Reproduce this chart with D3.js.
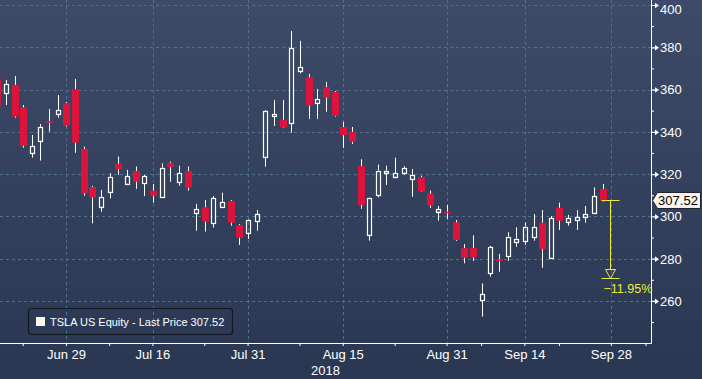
<!DOCTYPE html>
<html><head><meta charset="utf-8">
<script src="https://cdn.jsdelivr.net/npm/d3@7"></script>
<style>html,body{margin:0;padding:0;background:#2c3a56;overflow:hidden}</style>
</head><body><svg id="c" width="702" height="379"></svg>
<script>
const dates = ["2018-06-19","2018-06-20","2018-06-21","2018-06-22","2018-06-25","2018-06-26","2018-06-27","2018-06-28","2018-06-29",
"2018-07-02","2018-07-03","2018-07-05","2018-07-06","2018-07-09","2018-07-10","2018-07-11","2018-07-12","2018-07-13",
"2018-07-16","2018-07-17","2018-07-18","2018-07-19","2018-07-20","2018-07-23","2018-07-24","2018-07-25","2018-07-26","2018-07-27",
"2018-07-30","2018-07-31","2018-08-01","2018-08-02","2018-08-03","2018-08-06","2018-08-07","2018-08-08","2018-08-09","2018-08-10",
"2018-08-13","2018-08-14","2018-08-15","2018-08-16","2018-08-17","2018-08-20","2018-08-21","2018-08-22","2018-08-23","2018-08-24",
"2018-08-27","2018-08-28","2018-08-29","2018-08-30","2018-08-31","2018-09-04","2018-09-05","2018-09-06","2018-09-07",
"2018-09-10","2018-09-11","2018-09-12","2018-09-13","2018-09-14","2018-09-17","2018-09-18","2018-09-19","2018-09-20","2018-09-21",
"2018-09-24","2018-09-25","2018-09-26","2018-09-27"];
const opens = [365.2,358.2,362.2,351.6,330.1,335.8,345.1,348.6,353.6,
360.3,331.9,313.9,304.6,311.7,324.9,315.5,321.5,315.7,
312.2,309.0,325.3,316.4,321.5,301.7,304.4,296.7,304.6,307.3,
295.9,292.3,297.8,328.3,347.6,345.7,344.0,368.9,365.8,353.8,
361.2,358.8,342.3,340.0,323.8,291.4,310.0,320.7,318.8,320.7,
317.8,318.6,310.8,302.3,302.2,297.2,285.0,285.0,260.3,
273.1,279.6,281.1,287.9,288.4,290.1,297.0,280.5,304.1,297.5,
298.3,299.9,301.7,313.0];
const highs = [368.0,364.5,366.4,352.7,338.5,343.7,350.8,357.4,354.1,
365.0,333.0,314.4,312.5,320.4,328.3,322.0,323.6,319.6,
315.3,325.1,325.9,324.0,323.6,305.9,307.8,309.6,311.2,307.8,
296.4,298.6,303.0,350.3,355.1,355.1,387.7,383.0,367.4,360.3,
363.6,359.3,344.7,342.3,327.0,308.8,324.5,324.0,327.8,323.8,
322.4,319.3,312.2,304.9,305.4,298.3,286.9,291.0,268.3,
286.1,282.2,292.5,294.8,297.1,301.1,303.0,300.2,306.5,300.7,
302.9,304.9,313.7,315.3];
const lows = [346.0,352.7,346.7,332.5,327.8,326.4,340.1,346.7,342.5,
330.1,309.8,296.7,302.2,308.5,319.6,315.2,313.0,309.6,
306.5,308.7,316.4,314.5,312.2,293.2,292.8,294.7,304.1,295.6,
286.5,289.3,293.2,323.5,342.8,341.8,339.6,367.7,346.1,346.1,
349.5,347.2,332.4,334.2,303.6,288.5,309.0,314.9,318.0,319.6,
309.3,311.5,304.0,298.0,298.6,288.4,277.8,278.9,252.6,
271.5,273.8,279.0,285.6,286.5,288.5,275.7,280.1,293.6,295.6,
293.6,297.0,301.3,307.0];
const closes = [352.6,362.6,347.2,333.4,333.3,342.1,344.3,350.3,342.9,
334.9,310.9,309.0,309.3,318.6,322.4,319.1,316.4,319.1,
309.8,323.0,323.4,320.5,313.6,303.5,297.5,308.6,306.8,297.0,
289.9,298.3,301.1,349.9,348.2,342.0,379.5,370.5,352.4,355.5,
356.2,347.5,338.5,335.2,305.4,308.6,321.7,321.7,320.5,322.9,
319.6,311.7,305.1,303.4,301.7,288.8,280.4,280.6,263.1,
285.4,279.4,290.4,289.5,295.2,295.0,284.6,299.1,297.9,299.1,
299.7,301.2,309.6,307.52];
const futureDates = ["2018-09-28","2018-10-01","2018-10-02","2018-10-03","2018-10-04"];
const labelDates = ["2018-06-29","2018-07-16","2018-07-31","2018-08-15","2018-08-31","2018-09-14","2018-09-28"];
const labelText = ["Jun 29","Jul 16","Jul 31","Aug 15","Aug 31","Sep 14","Sep 28"];
const minorDates = ["2018-06-22","2018-07-09","2018-07-24","2018-08-08","2018-08-23","2018-09-07","2018-09-20","2018-10-04"];
const yTicks = [260,280,300,320,340,360,380,400];
const yMinor = [250,270,290,310,330,350,370,390];
const yearLabel = "2018";
const seriesName = "TSLA US Equity - Last Price";
const lastPrice = 307.52;
const annotPct = -11.95;
const annotDate = "2018-09-28";

const W = 702, H = 379, PW = 651, PH = 343;
const svg = d3.select("#c");
const defs = svg.append("defs");
const grad = defs.append("linearGradient").attr("id","bg").attr("x1",0).attr("x2",0).attr("y1",0).attr("y2",1);
grad.append("stop").attr("offset","0%").attr("stop-color","#3d4b68");
grad.append("stop").attr("offset","100%").attr("stop-color","#2a3753");
defs.append("clipPath").attr("id","clip").append("rect").attr("x",0).attr("y",0).attr("width",PW).attr("height",PH);
svg.append("rect").attr("width",W).attr("height",H).attr("fill","url(#bg)");

const x = d3.scaleBand().domain(dates.concat(futureDates)).range([-7.1, 650.3]).padding(0);
const cx = d => x(d) + x.bandwidth()/2;
const y = d3.scaleLinear().domain([240, 400]).range([343.2, 5]);
const px = v => Math.round(v) + 0.5;

// grid
const grid = svg.append("g").attr("stroke","#51708f").attr("stroke-width",1).attr("stroke-dasharray","3,3");
yTicks.forEach(v => grid.append("line").attr("x1",0).attr("x2",PW).attr("y1",px(y(v))).attr("y2",px(y(v))));
labelDates.forEach(d => grid.append("line").attr("x1",px(cx(d))).attr("x2",px(cx(d))).attr("y1",0).attr("y2",PH));

// candles
const cg = svg.append("g").attr("clip-path","url(#clip)");
dates.forEach((d,i) => {
  const o = opens[i], h = highs[i], l = lows[i], c = closes[i];
  const xc = Math.round(cx(d));
  const top = y(Math.max(o,c)), bot = y(Math.min(o,c));
  if (c >= o) {
    cg.append("line").attr("x1",xc+0.5).attr("x2",xc+0.5).attr("y1",y(h)).attr("y2",top).attr("stroke","#fff").attr("stroke-width",1);
    cg.append("line").attr("x1",xc+0.5).attr("x2",xc+0.5).attr("y1",bot).attr("y2",y(l)).attr("stroke","#fff").attr("stroke-width",1);
    cg.append("rect").attr("x",xc-1.5).attr("y",Math.round(top)+0.5).attr("width",4)
      .attr("height",Math.max(1,Math.round(bot)-Math.round(top))).attr("fill","none").attr("stroke","#fff").attr("stroke-width",1.2);
  } else {
    cg.append("line").attr("x1",xc+0.5).attr("x2",xc+0.5).attr("y1",y(h)).attr("y2",y(l)).attr("stroke","#fff").attr("stroke-width",1);
    cg.append("rect").attr("x",xc-3).attr("y",top).attr("width",7)
      .attr("height",Math.max(1.6,bot-top)).attr("fill","#dc143c");
  }
});

// y axis
const ya = svg.append("g").attr("transform",`translate(${PW},0)`)
  .call(d3.axisRight(y).tickValues(yTicks).tickSize(0).tickPadding(9).tickFormat(d3.format("d")));
ya.select(".domain").remove();
ya.selectAll(".tick").append("path").attr("d","M0,-0.6H4V-2.8L8,0L4,2.8V0.6H0Z").attr("fill","#fff");
ya.selectAll("text").attr("fill","#fff").style("font","13px 'Liberation Sans', Arial, sans-serif")
  .attr("dy", d => d === 400 ? "0.62em" : "0.34em");
const ym = svg.append("g").attr("transform",`translate(${PW},0)`)
  .call(d3.axisRight(y).tickValues(yMinor).tickSize(3).tickFormat(""));
ym.select(".domain").remove();
ym.selectAll("line").attr("stroke","#fff");
svg.append("line").attr("x1",PW+0.5).attr("x2",PW+0.5).attr("y1",0).attr("y2",PH+1).attr("stroke","#fff");

// x axis
const xa = svg.append("g").attr("transform",`translate(0,${PH})`)
  .call(d3.axisBottom(x).tickValues(labelDates).tickSize(3).tickPadding(4).tickFormat((d,i)=>labelText[labelDates.indexOf(d)]));
xa.select(".domain").remove();
xa.selectAll("line").attr("stroke","#fff");
xa.selectAll("text").attr("fill","#fff").style("font","13px 'Liberation Sans', Arial, sans-serif");
const xm = svg.append("g").attr("transform",`translate(0,${PH})`)
  .call(d3.axisBottom(x).tickValues(minorDates).tickSize(3).tickFormat(""));
xm.select(".domain").remove();
xm.selectAll("line").attr("stroke","#fff");
svg.append("line").attr("x1",0).attr("x2",PW+1).attr("y1",PH+0.5).attr("y2",PH+0.5).attr("stroke","#fff");
svg.append("text").attr("x",PW/2).attr("y",375).attr("text-anchor","middle").attr("fill","#fff")
  .style("font","13px 'Liberation Sans', Arial, sans-serif").text(yearLabel);

// annotation
const endVal = lastPrice * (1 + annotPct/100);
const ax = Math.round(x(annotDate) + x.bandwidth()*0.3) + 0.5;
const yc = "#ecec3a";
const y0 = px(y(lastPrice)), y1 = px(y(endVal));
const an = svg.append("g").attr("stroke",yc).attr("stroke-width",1).attr("fill","none");
an.append("line").attr("x1",ax-9).attr("x2",ax+9).attr("y1",y0).attr("y2",y0);
an.append("line").attr("x1",ax).attr("x2",ax).attr("y1",y0).attr("y2",y1-9);
an.append("path").attr("d",`M${ax-5},${y1-9}H${ax+5}L${ax},${y1}Z`);
an.append("line").attr("x1",ax-9).attr("x2",ax+9).attr("y1",y1).attr("y2",y1);
svg.append("text").attr("x",ax-7).attr("y",y1+14).attr("fill",yc)
  .style("font","12.5px 'Liberation Sans', Arial, sans-serif").text(d3.format(".2f")(annotPct)+"%");

// price tag
const ty = y(lastPrice);
svg.append("path").attr("d",`M${PW+1.5},${ty} L${PW+6.5},${ty-8} H700.5 V${ty+8} H${PW+6.5} Z`)
  .attr("fill","#fdf3ec").attr("stroke","#1c2230").attr("stroke-width",1);
svg.append("text").attr("x",678).attr("y",ty).attr("dy","0.35em").attr("text-anchor","middle").attr("fill","#000")
  .style("font","13px 'Liberation Sans', Arial, sans-serif").text(d3.format(".2f")(lastPrice));

// legend
svg.append("rect").attr("x",28.5).attr("y",308.5).attr("width",204).attr("height",26).attr("rx",3)
  .attr("fill","none").attr("stroke","#12161e").attr("stroke-width",1.2);
svg.append("rect").attr("x",36).attr("y",317).attr("width",9).attr("height",9).attr("fill","#fff5ef");
svg.append("text").attr("x",50).attr("y",322).attr("dy","0.35em").attr("fill","#fff")
  .style("font","11px 'Liberation Sans', Arial, sans-serif").text(seriesName + " " + d3.format(".2f")(lastPrice));
</script></body></html>
